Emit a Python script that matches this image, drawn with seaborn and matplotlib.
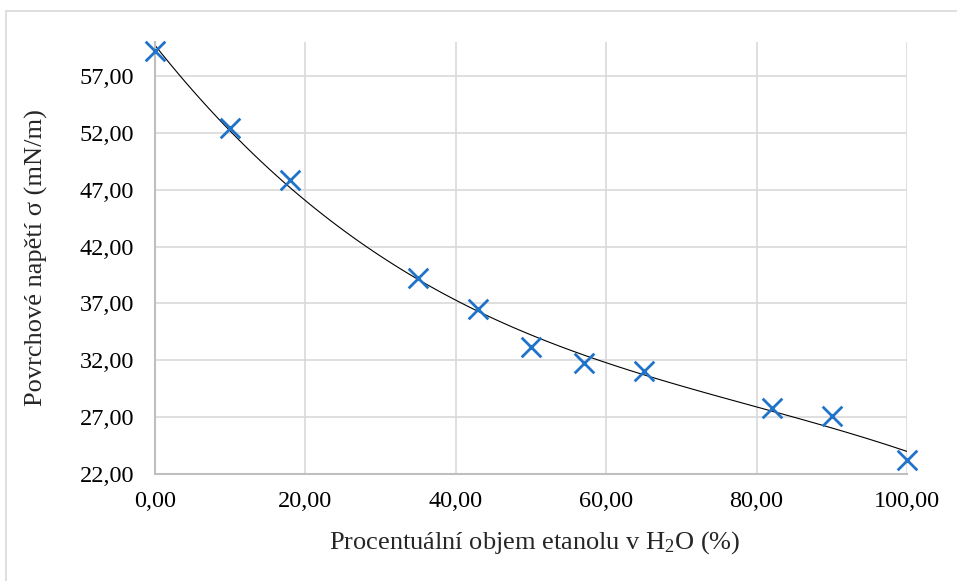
import matplotlib
matplotlib.use("Agg")
import matplotlib.pyplot as plt
import seaborn as sns
import numpy as np
import pandas as pd
from matplotlib.ticker import FuncFormatter
from matplotlib.patches import Rectangle

# Data
ethanol_pct = [0, 10, 18, 35, 43, 50, 57, 65, 82, 90, 100]
surface_tension = [59.2, 52.45, 47.9, 39.2, 36.5, 33.2, 31.8, 31.1, 27.8, 27.1, 23.2]
x_ticks = [0, 20, 40, 60, 80, 100]
y_ticks = [22, 27, 32, 37, 42, 47, 52, 57]

df = pd.DataFrame({"x": ethanol_pct, "y": surface_tension})

sns.set_theme(style="white")
plt.rcParams["font.family"] = ["Liberation Serif", "DejaVu Serif"]
plt.rcParams["mathtext.fontset"] = "custom"
plt.rcParams["mathtext.rm"] = "Liberation Serif"
plt.rcParams["mathtext.it"] = "Liberation Serif:italic"

fig = plt.figure(figsize=(9.57, 5.81), dpi=100)
fig.patches.append(Rectangle((6 / 957, -0.1), 1.2, 1 - 11 / 581 + 0.1,
                             transform=fig.transFigure, fill=False,
                             edgecolor="#D9D9D9", linewidth=1.2))
ax = fig.add_axes([155 / 957, 1 - 474 / 581, (907 - 155) / 957, (474 - 42) / 581])

sns.regplot(data=df, x="x", y="y", order=3, ci=None, scatter=False, ax=ax,
            line_kws={"color": "black", "linewidth": 0.8})
sns.scatterplot(data=df, x="x", y="y", marker="x", s=200, color="#1F73C8",
                linewidth=2.0, ax=ax, zorder=3, clip_on=False)

ax.set_xlim(0, 100)
ax.set_ylim(22, 60)
ax.set_xticks(x_ticks)
ax.set_yticks(y_ticks)
fmt = FuncFormatter(lambda v, p: f"{v:.2f}".replace(".", ","))
ax.xaxis.set_major_formatter(fmt)
ax.yaxis.set_major_formatter(fmt)
ax.grid(True, color="#D9D9D9", linewidth=1.2)
ax.set_axisbelow(True)
for s in ["top", "right"]:
    ax.spines[s].set_visible(False)
for s in ["left", "bottom"]:
    ax.spines[s].set_color("#BFBFBF")
    ax.spines[s].set_linewidth(1.5)
ax.tick_params(axis="both", length=0, labelsize=17.5, colors="black")
ax.tick_params(axis="x", pad=12)
ax.tick_params(axis="y", pad=15)

ax.set_xlabel("Procentuální objem etanolu v H$_2$O (%)", fontsize=19)
ax.set_ylabel("Povrchové napětí σ (mN/m)", fontsize=19)
ax.xaxis.set_label_coords(0.505, -0.128)
ax.yaxis.set_label_coords(-0.142, 0.5)

fig.savefig("out.png", dpi=100)
